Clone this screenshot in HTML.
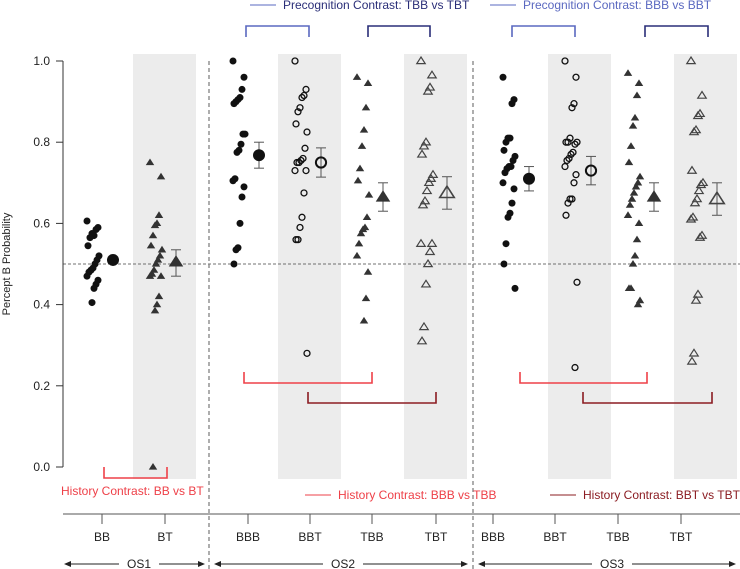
<!DOCTYPE html>
<html><head><meta charset="utf-8">
<style>
html,body{margin:0;padding:0;background:#fff;}
svg{display:block;font-family:"Liberation Sans",sans-serif;}
</style></head>
<body>
<svg id="chart" width="740" height="569" viewBox="0 0 740 569"></svg>
<script>
const categories=["BB","BT","BBB","BBT","TBB","TBT","BBB","BBT","TBB","TBT"];
const groups=["OS1","OS2","OS3"];
const yTicks=[0.0,0.2,0.4,0.6,0.8,1.0];
const valsBB=[0.606,0.59,0.585,0.57,0.575,0.565,0.545,0.52,0.51,0.50,0.49,0.485,0.48,0.47,0.46,0.45,0.44,0.405];
const valsBT=[0.75,0.715,0.62,0.60,0.595,0.57,0.545,0.535,0.52,0.51,0.50,0.485,0.475,0.47,0.47,0.42,0.40,0.385,0.0];
const valsBBB2=[1.0,0.96,0.93,0.91,0.905,0.90,0.895,0.82,0.82,0.795,0.78,0.775,0.71,0.705,0.69,0.665,0.60,0.54,0.535,0.50];
const valsBBT2=[1.0,0.93,0.915,0.91,0.885,0.875,0.845,0.825,0.785,0.76,0.755,0.75,0.75,0.73,0.73,0.675,0.615,0.59,0.56,0.56,0.28];
const valsTBB2=[0.96,0.945,0.885,0.83,0.79,0.735,0.705,0.67,0.615,0.59,0.585,0.575,0.55,0.52,0.48,0.415,0.36];
const valsTBT2=[1.0,0.965,0.935,0.925,0.80,0.79,0.77,0.72,0.71,0.70,0.68,0.655,0.645,0.55,0.55,0.53,0.50,0.45,0.345,0.31];
const valsBBB3=[0.96,0.905,0.895,0.81,0.81,0.80,0.78,0.765,0.755,0.74,0.74,0.735,0.725,0.70,0.685,0.65,0.625,0.615,0.55,0.50,0.44];
const valsBBT3=[1.0,0.96,0.895,0.885,0.81,0.80,0.80,0.80,0.795,0.775,0.77,0.76,0.755,0.74,0.72,0.70,0.66,0.66,0.65,0.62,0.455,0.245];
const valsTBB3=[0.97,0.945,0.915,0.86,0.84,0.79,0.75,0.715,0.70,0.69,0.675,0.66,0.645,0.62,0.60,0.56,0.52,0.50,0.44,0.44,0.41,0.40];
const valsTBT3=[1.0,0.915,0.87,0.865,0.83,0.825,0.73,0.70,0.695,0.68,0.66,0.65,0.615,0.61,0.57,0.565,0.425,0.41,0.28,0.26];
const means=[0.51,0.505,0.768,0.75,0.665,0.675,0.71,0.73,0.665,0.66];
const errLo=[0.503,0.47,0.736,0.714,0.63,0.635,0.68,0.695,0.63,0.62];
const errHi=[0.517,0.535,0.80,0.786,0.70,0.715,0.74,0.765,0.70,0.70];
const series=[valsBB,valsBT,valsBBB2,valsBBT2,valsTBB2,valsTBT2,valsBBB3,valsBBT3,valsTBB3,valsTBT3];
const markers=["dot","tri","dot","ring","tri","otri","dot","ring","tri","otri"];

const NS="http://www.w3.org/2000/svg";
const svg=document.getElementById("chart");
const catX=[102,165,248,310,372,436,493,555,618,681];
const shift=[0,0,0,0,0,0,25,25,25,25];
function y(v){return 467-v*406;}
function x(i){return catX[i];}
function mk(tag,attrs,parent){const e=document.createElementNS(NS,tag);for(const k in attrs)e.setAttribute(k,attrs[k]);(parent||svg).appendChild(e);return e;}

// shaded bands
[1,3,5,7,9].forEach(i=>{
  const r=mk("rect",{x:x(i)-32+shift[i],y:54,width:63,height:425,fill:"#ececec"});
  
  
});
const ref=mk("line",{x1:63,x2:740,y1:y(0.5),y2:y(0.5),stroke:"#444","stroke-width":0.8,"stroke-dasharray":"3,2"});


[209,473].forEach((sx,k)=>{
  const l=mk("line",{x1:sx,x2:sx,y1:61,y2:569,stroke:"#777","stroke-width":1.2,"stroke-dasharray":"4,3"});
  
  
});
const ya=mk("line",{x1:63,x2:63,y1:y(1),y2:y(0),stroke:"#333","stroke-width":1});


yTicks.forEach(t=>{
  mk("line",{x1:56,x2:63,y1:y(t),y2:y(t),stroke:"#333"});
  const tx=mk("text",{x:50,y:y(t)+4,"text-anchor":"end","font-size":12,fill:"#222"});
  tx.textContent=t.toFixed(1);
  
  
});
const yl=mk("text",{x:0,y:0,"font-size":11,fill:"#222","text-anchor":"middle",transform:"translate(10,264) rotate(-90)"});
yl.textContent="Percept B Probability";


const xa=mk("line",{x1:63,x2:740,y1:514,y2:514,stroke:"#555","stroke-width":1});


categories.forEach((c,i)=>{
  mk("line",{x1:x(i),x2:x(i),y1:514,y2:524,stroke:"#555"});
  const t=mk("text",{x:x(i),y:541,"text-anchor":"middle","font-size":12,fill:"#222"});
  t.textContent=c;
  
  
});
const gSpans=[[64,205,139],[214,468,343],[478,736,612]];
groups.forEach((g,k)=>{
  const [a,b,c]=gSpans[k];
  mk("line",{x1:a+5,x2:c-20,y1:564,y2:564,stroke:"#222"});
  mk("line",{x1:c+20,x2:b-5,y1:564,y2:564,stroke:"#222"});
  mk("polygon",{points:`${a},564 ${a+7},561 ${a+7},567`,fill:"#222"});
  mk("polygon",{points:`${b},564 ${b-7},561 ${b-7},567`,fill:"#222"});
  const t=mk("text",{x:c,y:568,"text-anchor":"middle","font-size":12,fill:"#222"});
  t.textContent=g;
  
  
});
function drawMarker(type,cx,cy,s,name){
  let e;
  if(type==="dot") e=mk("circle",{cx:cx,cy:cy,r:s,fill:"#111"});
  else if(type==="ring") e=mk("circle",{cx:cx,cy:cy,r:s*0.85,fill:"none",stroke:"#111","stroke-width":s>4?2:1.3});
  else {
    const h=s*1.9,w=s*1.1;
    const p=`${cx},${cy-h*0.6} ${cx-w*1.1},${cy+h*0.4} ${cx+w*1.1},${cy+h*0.4}`;
    if(type==="tri") e=mk("polygon",{points:p,fill:"#333"});
    else e=mk("polygon",{points:p,fill:"none",stroke:"#444","stroke-width":s>4?1.6:1.2});
  }
  
  
}
series.forEach((vals,i)=>{
  vals.forEach((v,j)=>{
    const jit=((j*37)%13-6)*1.0;
    drawMarker(markers[i],x(i)-9+shift[i]+jit,y(v),3.5,'point-'+categories[i].toLowerCase());
  });
  const mx=x(i)+11+shift[i];
  const eb=mk("g",{stroke:"#555","stroke-width":1},null);
  mk("line",{x1:mx,x2:mx,y1:y(errLo[i]),y2:y(errHi[i])},eb);
  mk("line",{x1:mx-5,x2:mx+5,y1:y(errLo[i]),y2:y(errLo[i])},eb);
  mk("line",{x1:mx-5,x2:mx+5,y1:y(errHi[i]),y2:y(errHi[i])},eb);
  
  
  drawMarker(markers[i],mx,y(means[i]),6,'mean-'+categories[i].toLowerCase());
});
function bracket(x1,x2,yTop,yBot,color,down,name){
  const d=down?`M${x1},${yBot} L${x1},${yTop} L${x2},${yTop} L${x2},${yBot}`:`M${x1},${yTop} L${x1},${yBot} L${x2},${yBot} L${x2},${yTop}`;
  const p=mk("path",{d:d,fill:"none",stroke:color,"stroke-width":1.6});
  
  
}
const LB="#5a68c0",NV="#2a2e78",RD="#ee4048",DR="#8b1c22";
bracket(x(2)-2,x(3)-1,26,37,LB,true,'precog-bracket-os2-bbb-bbt');
bracket(x(4)-4,x(5)-6,26,37,NV,true,'precog-bracket-os2-tbb-tbt');
bracket(x(6)+19,x(7)+20,26,37,LB,true,'precog-bracket-os3-bbb-bbt');
bracket(x(8)+27,x(9)+27,26,37,NV,true,'precog-bracket-os3-tbb-tbt');
bracket(x(0)+2,x(1)+2,467,478,RD,false,'history-bracket-os1');
bracket(x(2)-4,x(4),372,383,RD,false,'history-bracket-os2-bbb-tbb');
bracket(x(3)-2,x(5),392,403,DR,false,'history-bracket-os2-bbt-tbt');
bracket(x(6)+27,x(8)+29,372,383,RD,false,'history-bracket-os3-bbb-tbb');
bracket(x(7)+28,x(9)+31,392,403,DR,false,'history-bracket-os3-bbt-tbt');
function legend(lx,ly,color,lineColor,text,name,line){
  if(line) mk("line",{x1:lx,x2:lx+26,y1:ly-4,y2:ly-4,stroke:lineColor,"stroke-width":1});
  const t=mk("text",{x:line?lx+33:lx,y:ly,"font-size":12,fill:color});
  t.textContent=text;
  
  
}
legend(250,9,NV,LB,"Precognition Contrast: TBB vs TBT",'legend-precog-tbb-tbt',true);
legend(490,9,LB,LB,"Precognition Contrast: BBB vs BBT",'legend-precog-bbb-bbt',true);
legend(61,495,RD,RD,"History Contrast: BB vs BT",'legend-history-bb-bt',false);
legend(305,499,RD,RD,"History Contrast: BBB vs TBB",'legend-history-bbb-tbb',true);
legend(550,499,DR,DR,"History Contrast: BBT vs TBT",'legend-history-bbt-tbt',true);
</script>
</body></html>
